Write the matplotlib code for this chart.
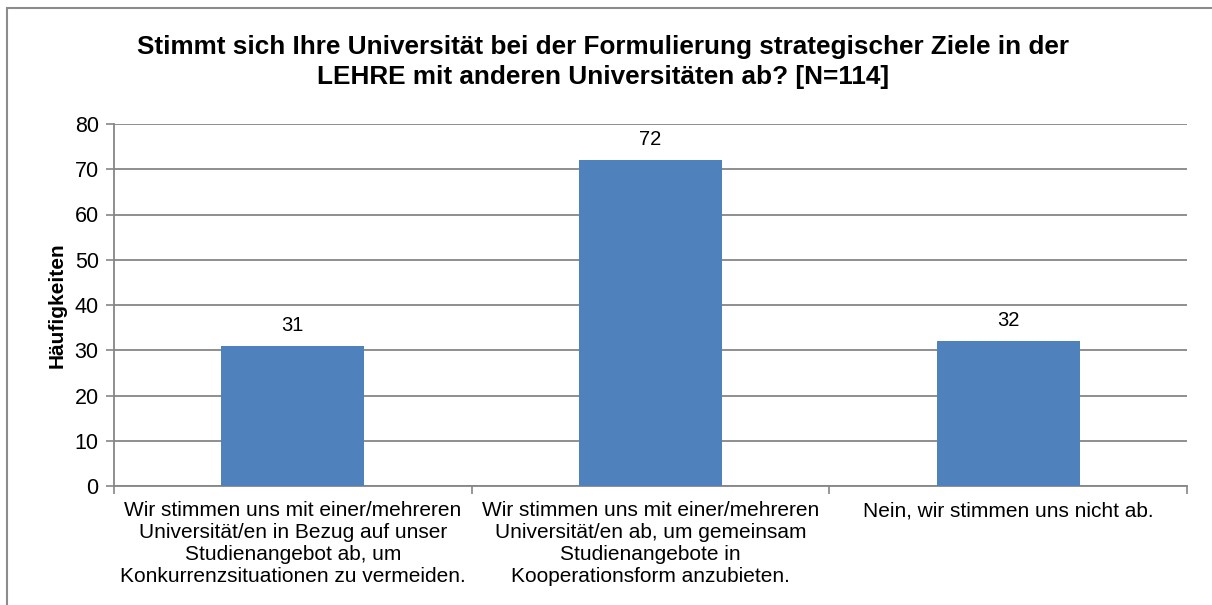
import matplotlib
matplotlib.use("Agg")
import matplotlib.pyplot as plt
from matplotlib.patches import Rectangle

categories = [
    "Wir stimmen uns mit einer/mehreren\nUniversität/en in Bezug auf unser\nStudienangebot ab, um\nKonkurrenzsituationen zu vermeiden.",
    "Wir stimmen uns mit einer/mehreren\nUniversität/en ab, um gemeinsam\nStudienangebote in\nKooperationsform anzubieten.",
    "Nein, wir stimmen uns nicht ab.",
]
values = [31, 72, 32]
yticks = [0, 10, 20, 30, 40, 50, 60, 70, 80]
title = "Stimmt sich Ihre Universität bei der Formulierung strategischer Ziele in der\nLEHRE mit anderen Universitäten ab? [N=114]"
ylabel = "Häufigkeiten"

plt.rcParams['font.family'] = ['Liberation Sans', 'DejaVu Sans']

W, H = 1212, 605
fig = plt.figure(figsize=(W / 100, H / 100), dpi=100)

# outer chart border
fig.patches.append(Rectangle((7 / W, -0.05), 1.1, (H - 8) / H + 0.05,
                             transform=fig.transFigure, fill=False,
                             edgecolor='#8c8c8c', linewidth=1.5, zorder=0))

left, right, top, bottom = 114, 1187, 124, 486
ax = fig.add_axes([left / W, (H - bottom) / H, (right - left) / W, (bottom - top) / H])

x = list(range(len(categories)))
bars = ax.bar(x, values, width=0.4, color='#4F81BD', zorder=3)
ax.set_xlim(-0.5, len(categories) - 0.5)
ax.set_ylim(0, 80)
ax.set_yticks(yticks)
ax.tick_params(axis='y', labelsize=15.5, length=6, width=1.2, color='#868686', pad=5)
ax.grid(axis='y', color='#868686', linewidth=1.3, zorder=0)

for s in ['top', 'right']:
    ax.spines[s].set_visible(False)
for s in ['left', 'bottom']:
    ax.spines[s].set_color('#868686')
    ax.spines[s].set_linewidth(1.3)

# category ticks at boundaries
ax.set_xticks([i - 0.5 for i in range(len(categories) + 1)], minor=False)
ax.set_xticklabels([])
ax.tick_params(axis='x', length=6, width=1.2, color='#868686')
ax.set_xticks(x, minor=True)
ax.set_xticklabels(categories, minor=True, fontsize=15, linespacing=1.2)
ax.tick_params(axis='x', which='minor', length=0, pad=11)

for b, v in zip(bars, values):
    ax.annotate(str(v), (b.get_x() + b.get_width() / 2, v), xytext=(0, 8),
                textcoords='offset points', ha='center', va='bottom', fontsize=14.5)

ax.set_ylabel(ylabel, fontsize=15, fontweight='bold', labelpad=6)

fig.text(603 / W, 1 - 35 / H, title, ha='center', va='top', fontsize=18.8,
         fontweight='bold', linespacing=1.3)

fig.savefig("out.png", dpi=100)
